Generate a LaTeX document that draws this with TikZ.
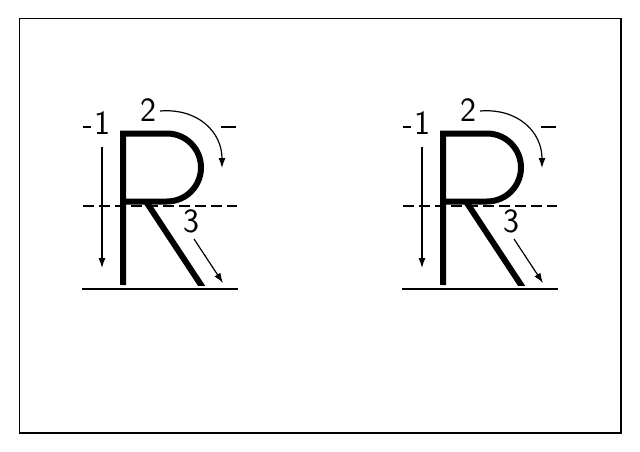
\documentclass[tikz,border=0pt]{standalone}
\usetikzlibrary{arrows.meta}
\tikzset{
  stroke/.style={line width=6pt, line join=miter, line cap=butt},
  guide/.style={line width=1.5pt},
  move/.style={line width=1.2pt, -{Latex[length=10pt,width=7pt]}},
  digit/.style={inner sep=0pt, font=\fontsize{34}{34}\sffamily}
}
\begin{document}
\begin{tikzpicture}[x=1pt, y=-1pt]
        \useasboundingbox (0,0) rectangle (640,452);
        % 外框
        \draw[line width=1.5pt] (19.5,18.5) rectangle (621,433);
        \foreach \dx/\s in {0/a,320/b}{
          \begin{scope}[xshift=\dx pt]
            % 辅助线
            \draw[guide] (83,127) -- (91,127);
            \draw[guide] (221,127) -- (236,127);
            \draw[guide, dash pattern=on 11pt off 5pt] (83,206) -- (237,206);
            \draw[line width=2.5pt] (82,289) -- (238,289);
            % 字母 R
            \begin{scope}
              \clip (0,0) rectangle (640,285);
              \draw[stroke] (123,285) -- (123,133.5) -- (167,133.5)
                arc (-90:90:34) -- (123,201.5);
              \draw[stroke] (146,201.5) -- (205,291);
            \end{scope}
            % 笔顺
            \node[digit] (one\s) at (102,123.5) {1};
            \node[digit] (two\s) at (148.5,110) {2};
            \node[digit] (three\s) at (191.5,221) {3};
            \coordinate (s1\s) at (102,147);
            \coordinate (e1\s) at (102,268);
            \coordinate (s2\s) at (160,111);
            \coordinate (e2\s) at (222,168);
            \coordinate (s3\s) at (194,239);
            \coordinate (e3\s) at (223,283);
            \draw[move] (s1\s) -- (e1\s);
            \draw[move] (s2\s) .. controls (198,108) and (222,132) .. (e2\s);
            \draw[move] (s3\s) -- (e3\s);
          \end{scope}
        }
\end{tikzpicture}
\end{document}
